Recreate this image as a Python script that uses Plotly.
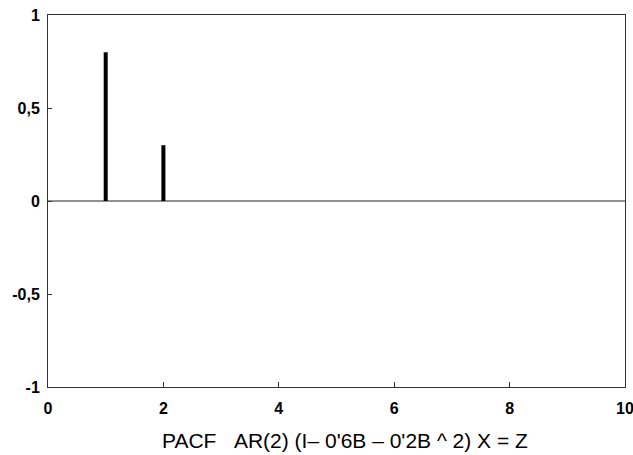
import plotly.graph_objects as go

lags = [1, 2]
pacf = [0.8, 0.3]
ytickvals = [-1, -0.5, 0, 0.5, 1]
yticktext = ["-1", "-0,5", "0", "0,5", "1"]
xtickvals = [0, 2, 4, 6, 8, 10]
xticktext = ["0", "2", "4", "6", "8", "10"]
title = "PACF\u00a0\u00a0\u00a0AR(2) (I\u2013 0'6B \u2013 0'2B ^ 2) X = Z"

xs, ys = [], []
for l, v in zip(lags, pacf):
    xs += [l, l, None]
    ys += [0, v, None]

fig = go.Figure()
fig.add_trace(go.Scatter(x=[0, 10], y=[0, 0], mode="lines",
                         line=dict(color="#222", width=1), showlegend=False,
                         hoverinfo="skip"))
fig.add_trace(go.Scatter(x=xs, y=ys, mode="lines",
                         line=dict(color="black", width=4), showlegend=False,
                         hoverinfo="skip"))

fig.update_layout(
    width=633, height=455,
    margin=dict(l=48, r=8, t=15, b=68),
    paper_bgcolor="white", plot_bgcolor="white",
    font=dict(family="Liberation Sans, Arial, sans-serif", color="black"),
    xaxis=dict(range=[0, 10], tickvals=xtickvals, ticktext=xticktext,
               ticks="inside", ticklen=5, tickcolor="#333",
               showline=True, linecolor="#333", linewidth=1, mirror=True,
               showgrid=False, zeroline=False, ticklabelstandoff=7,
               automargin=False, ticklabeloverflow="allow",
               tickfont=dict(size=16, weight="bold")),
    yaxis=dict(range=[-1, 1], tickvals=ytickvals, ticktext=yticktext,
               ticks="inside", ticklen=4, tickcolor="#333",
               showline=True, linecolor="#333", linewidth=1, mirror=True,
               showgrid=False, zeroline=False, ticklabelstandoff=4,
               automargin=False, ticklabeloverflow="allow",
               tickfont=dict(size=16, weight="bold")),
    annotations=[dict(text=title, xref="paper", yref="paper",
                      x=0.515, y=-0.145, xanchor="center", yanchor="middle",
                      showarrow=False, font=dict(size=21))],
)

fig.write_html("out.html")
